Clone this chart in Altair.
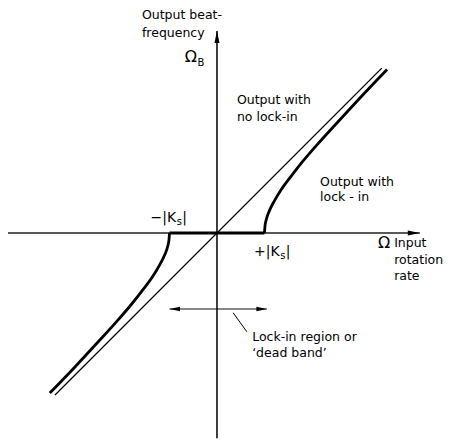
import altair as alt
import pandas as pd

# Ring-laser gyro response: output beat frequency vs. input rotation rate.
# Units are multiples of the lock-in threshold |Ks|.

# ideal response (no lock-in): straight line through the origin
ideal_x = [-3.41, 3.47]
ideal_y = [-3.41, 3.47]

# response with lock-in, positive branch (starts vertical at +|Ks|)
pos_x = [1.00, 1.01, 1.04, 1.10, 1.20, 1.35, 1.55, 1.80, 2.10, 2.50, 3.00, 3.58]
pos_y = [0.00, 0.14, 0.29, 0.46, 0.66, 0.91, 1.18, 1.50, 1.85, 2.29, 2.83, 3.44]
# negative branch (starts vertical at -|Ks|)
neg_x = [-1.00, -1.01, -1.04, -1.10, -1.20, -1.35, -1.55, -1.80, -2.10, -2.50, -3.00, -3.52]
neg_y = [0.00, -0.14, -0.29, -0.46, -0.66, -0.91, -1.18, -1.50, -1.85, -2.29, -2.83, -3.37]

# dead band: zero output between -|Ks| and +|Ks|
band_x = [-1.0, 1.0]

# axis extents
xaxis_ends = [-4.40, 4.27]
yaxis_ends = [-4.32, 4.25]

# lock-in region double arrow and its leader
span_y = -1.60
span_ends = [-1.0, 1.05]
leader_x = [0.34, 0.63]
leader_y = [-1.68, -2.08]

X_DOMAIN = [-4.568, 5.053]
Y_DOMAIN = [-4.358, 4.905]
FONT = "DejaVu Sans"
FS = 12.5

xs = alt.Scale(domain=X_DOMAIN, nice=False, zero=False)
ys = alt.Scale(domain=Y_DOMAIN, nice=False, zero=False)


def X(field="x"):
    return alt.X(f"{field}:Q", scale=xs, axis=None)


def Y(field="y"):
    return alt.Y(f"{field}:Q", scale=ys, axis=None)


# axes
x_axis = alt.Chart(pd.DataFrame({"x": [xaxis_ends[0]], "x2": [xaxis_ends[1]], "y": [0.0]})).mark_rule(
    color="#222", strokeWidth=1.6
).encode(x=X(), x2="x2:Q", y=Y())
y_axis = alt.Chart(pd.DataFrame({"y": [yaxis_ends[0]], "y2": [yaxis_ends[1]], "x": [0.0]})).mark_rule(
    color="#111", strokeWidth=1.6
).encode(x=X(), y=Y(), y2="y2:Q")

ARROW_RIGHT = "M 0 0 L -2 -0.42 L -2 0.42 Z"
ARROW_LEFT = "M 0 0 L 2 -0.42 L 2 0.42 Z"
ARROW_UP = "M 0 0 L -0.42 2 L 0.42 2 Z"

x_head = alt.Chart(pd.DataFrame({"x": [xaxis_ends[1]], "y": [0.0]})).mark_point(
    shape=ARROW_RIGHT, filled=True, size=144, color="black", opacity=1, strokeWidth=0
).encode(x=X(), y=Y())
y_head = alt.Chart(pd.DataFrame({"x": [0.0], "y": [yaxis_ends[1]]})).mark_point(
    shape=ARROW_UP, filled=True, size=144, color="black", opacity=1, strokeWidth=0
).encode(x=X(), y=Y())

# curves
ideal = alt.Chart(pd.DataFrame({"x": ideal_x, "y": ideal_y})).mark_line(
    color="black", strokeWidth=1.3
).encode(x=X(), y=Y())

lock_df = pd.DataFrame({
    "x": pos_x + neg_x,
    "y": pos_y + neg_y,
    "branch": ["pos"] * len(pos_x) + ["neg"] * len(neg_x),
    "k": list(range(len(pos_x))) + list(range(len(neg_x))),
})
lock = alt.Chart(lock_df).mark_line(
    color="black", strokeWidth=2.8, interpolate="monotone"
).encode(x=X(), y=Y(), detail="branch:N", order="k:Q")

band = alt.Chart(pd.DataFrame({"x": [band_x[0]], "x2": [band_x[1]], "y": [0.0]})).mark_rule(
    color="black", strokeWidth=3.2
).encode(x=X(), x2="x2:Q", y=Y())

# lock-in region arrow
span = alt.Chart(pd.DataFrame({"x": [span_ends[0]], "x2": [span_ends[1]], "y": [span_y]})).mark_rule(
    color="#111", strokeWidth=1.2
).encode(x=X(), x2="x2:Q", y=Y())
span_heads = alt.Chart(pd.DataFrame({
    "x": span_ends, "y": [span_y, span_y], "dir": ["l", "r"]
})).mark_point(filled=True, size=110, color="black", opacity=1, strokeWidth=0).encode(
    x=X(), y=Y(),
    shape=alt.Shape("dir:N", scale=alt.Scale(domain=["l", "r"], range=[ARROW_LEFT, ARROW_RIGHT]), legend=None),
)
leader = alt.Chart(pd.DataFrame({"x": leader_x, "y": leader_y})).mark_line(
    color="black", strokeWidth=1.0
).encode(x=X(), y=Y())

# labels
labels_df = pd.DataFrame([
    {"x": -1.58, "y": 4.59, "t": "Output beat-"},
    {"x": -1.58, "y": 4.21, "t": "frequency"},
    {"x": 0.42, "y": 2.80, "t": "Output with"},
    {"x": 0.42, "y": 2.44, "t": "no lock-in"},
    {"x": 2.17, "y": 1.07, "t": "Output with"},
    {"x": 2.17, "y": 0.76, "t": "lock - in"},
    {"x": 3.73, "y": -0.21, "t": "Input"},
    {"x": 3.73, "y": -0.57, "t": "rotation"},
    {"x": 3.73, "y": -0.91, "t": "rate"},
    {"x": 0.74, "y": -2.19, "t": "Lock-in region or"},
    {"x": 0.74, "y": -2.53, "t": "\u2018dead band\u2019"},
])
labels = alt.Chart(labels_df).mark_text(
    align="left", baseline="middle", font=FONT, fontSize=FS, color="black"
).encode(x=X(), y=Y(), text="t:N")

# Omega symbols
omega_df = pd.DataFrame([
    {"x": -0.55, "y": 3.71, "t": "\u03a9"},
    {"x": 3.52, "y": -0.21, "t": "\u03a9"},
])
omegas = alt.Chart(omega_df).mark_text(
    align="center", baseline="middle", font=FONT, fontSize=16, color="black"
).encode(x=X(), y=Y(), text="t:N")
omega_sub = alt.Chart(pd.DataFrame({"x": [-0.41], "y": [3.58], "t": ["B"]})).mark_text(
    align="left", baseline="middle", font=FONT, fontSize=10, color="black"
).encode(x=X(), y=Y(), text="t:N")

# |Ks| threshold labels: body, subscript s, closing bar
ks_df = pd.DataFrame([
    {"x": -0.86, "y": 0.32, "t": "\u2212|K"},
    {"x": 1.32, "y": -0.40, "t": "+|K"},
])
ks_body = alt.Chart(ks_df).mark_text(
    align="right", baseline="middle", font=FONT, fontSize=14, color="black"
).encode(x=X(), y=Y(), text="t:N")
ks_sub = alt.Chart(ks_df).mark_text(
    align="left", baseline="middle", font=FONT, fontSize=10, dx=0.5, dy=4, color="black"
).encode(x=X(), y=Y(), text=alt.value("s"))
ks_bar = alt.Chart(ks_df).mark_text(
    align="left", baseline="middle", font=FONT, fontSize=14, dx=6, color="black"
).encode(x=X(), y=Y(), text=alt.value("|"))

chart = alt.layer(
    x_axis, y_axis, x_head, y_head, ideal, lock, band, span, span_heads, leader,
    labels, omegas, omega_sub, ks_body, ks_sub, ks_bar,
).properties(
    width=457, height=440, padding=0, autosize=alt.AutoSizeParams(type="none"),
    background="white",
).configure_view(stroke=None)

chart.save("out.html", embed_options={"renderer": "svg", "actions": False})
